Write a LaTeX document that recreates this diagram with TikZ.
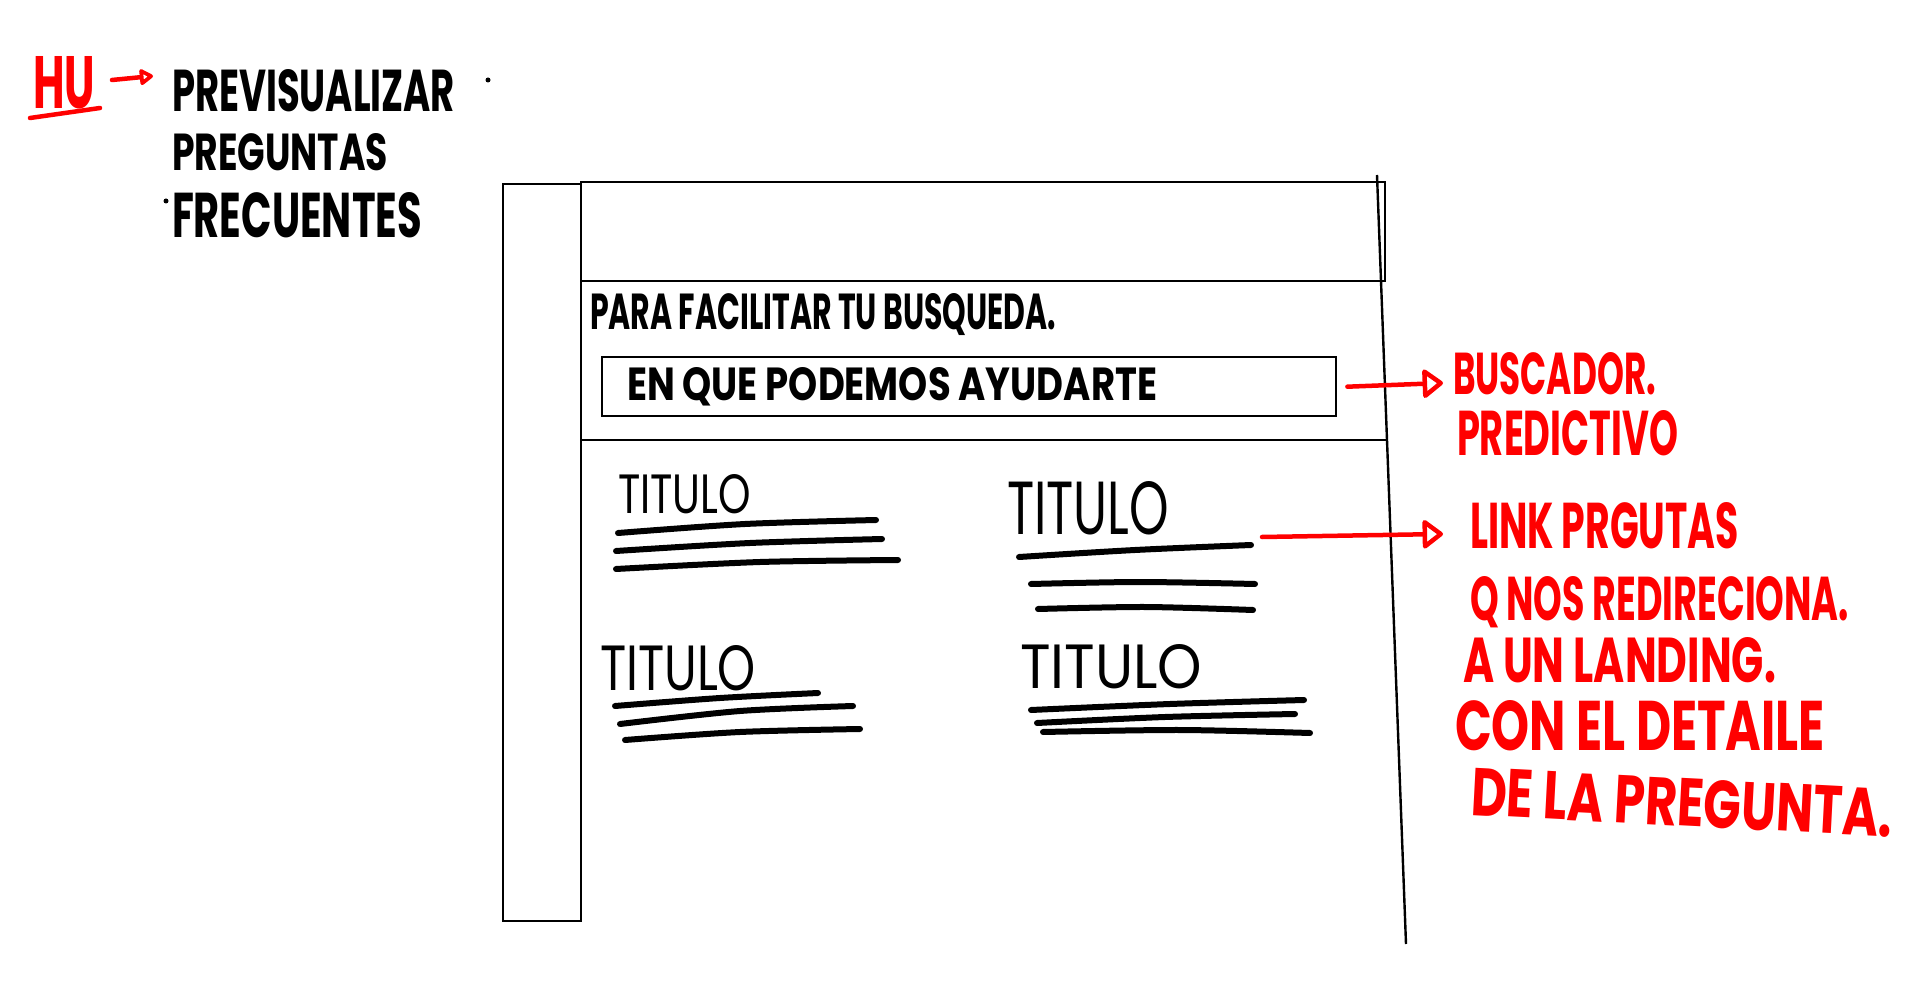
\documentclass[tikz,border=0pt]{standalone}
\usepackage{fontspec}
\setmainfont{Poppins}
\usepackage{graphicx}
\usetikzlibrary{arrows.meta}
\definecolor{redpen}{RGB}{255,0,0}
\newcommand{\hwbox}[3]{\resizebox{#1pt}{#2pt}{#3}}
\tikzset{
  frame/.style={draw=black, line width=2.4pt},
  scribble/.style={draw=black, line width=6pt, line cap=round, line join=round},
  hwtext/.style={inner sep=0pt, outer sep=0pt, anchor=base west, text=black, font=\bfseries},
  redtext/.style={hwtext, text=redpen},
  redline/.style={draw=redpen, line width=4.5pt, line cap=round},
  redarrow/.style={redline, -{Triangle[open, round, length=22pt, width=32pt]}},
  redarrowsmall/.style={redline, -{Triangle[open, round, length=15pt, width=18pt]}},
}
\begin{document}
\begin{tikzpicture}[x=1pt,y=-1pt]
\useasboundingbox[fill=white] (0,0) rectangle (1920,1000);

% heading
\node[redtext] (hu) at (33,109) {\hwbox{62}{52}{HU}};
\draw[redline] (30,118) -- (100,108);
\coordinate (hua) at (112,80);
\node[hwtext] (prev) at (172,112) {\hwbox{283}{42}{PREVISUALIZAR}};
\draw[redarrowsmall] (hua) -- ([xshift=-19pt,yshift=36pt]prev.base west);
\fill (488,80) circle (2.5);
\node[hwtext] (preg) at (172,171) {\hwbox{216}{37}{PREGUNTAS}};
\fill (166,201) circle (2.5);
\node[hwtext] (frec) at (172,238) {\hwbox{250}{45}{FRECUENTES}};

% wireframe
\node[frame, anchor=north west, minimum width=78pt, minimum height=737pt, inner sep=0pt] (sidebar) at (502,183) {};
\node[frame, anchor=north west, minimum width=804pt, minimum height=99pt, inner sep=0pt] (header) at (580,181) {};
\draw[frame] (1377,175) -- (1406,944);
\draw[frame] (580,440) -- (1388,440);

\node[hwtext] (para) at (590,330) {\hwbox{466}{36}{PARA FACILITAR TU BUSQUEDA.}};
\node[frame, anchor=north west, minimum width=734pt, minimum height=59pt, inner sep=0pt] (sbox) at (601,356) {};
\node[hwtext] (stext) at (627,400) {\hwbox{530}{33}{EN QUE PODEMOS AYUDARTE}};

% cards
\node[hwtext, font=\mdseries] (t1) at (618,513) {\hwbox{133}{39}{TITULO}};
\node[hwtext, font=\mdseries] (t2) at (1007,534) {\hwbox{162}{53}{TITULO}};
\node[hwtext, font=\mdseries] (t3) at (600,690) {\hwbox{156}{45}{TITULO}};
\node[hwtext, font=\mdseries] (t4) at (1020,688) {\hwbox{182}{44}{TITULO}};

\draw[scribble] plot[smooth] coordinates {(618,533) (745,524) (876,520)};
\draw[scribble] plot[smooth] coordinates {(616,551) (750,543) (882,539)};
\draw[scribble] plot[smooth] coordinates {(616,569) (760,562) (898,560)};

\draw[scribble] plot[smooth] coordinates {(1019,557) (1135,550) (1251,545)};
\draw[scribble] plot[smooth] coordinates {(1031,584) (1140,582) (1255,584)};
\draw[scribble] plot[smooth] coordinates {(1038,609) (1145,607) (1253,610)};

\draw[scribble] plot[smooth] coordinates {(615,706) (720,698) (818,693)};
\draw[scribble] plot[smooth] coordinates {(620,724) (740,711) (853,706)};
\draw[scribble] plot[smooth] coordinates {(625,740) (740,732) (860,729)};

\draw[scribble] plot[smooth] coordinates {(1031,710) (1170,704) (1304,700)};
\draw[scribble] plot[smooth] coordinates {(1037,723) (1165,717) (1295,714)};
\draw[scribble] plot[smooth] coordinates {(1043,732) (1180,730) (1310,733)};

% annotations
\node[redtext] (busc) at (1453,395) {\hwbox{203}{42}{BUSCADOR.}};
\node[redtext] (pred) at (1457,455) {\hwbox{221}{45}{PREDICTIVO}};
\draw[redarrow] ([xshift=10pt]sbox.east) -- ([xshift=-10pt,yshift=12pt]busc.base west);

\node[redtext] (link) at (1470,548) {\hwbox{269}{46}{LINK PRGUTAS}};
\node[redtext] (qnos) at (1470,620) {\hwbox{379}{44}{Q NOS REDIRECIONA.}};
\node[redtext] (land) at (1463,682) {\hwbox{313}{45}{A UN LANDING.}};
\node[redtext] (con) at (1455,750) {\hwbox{370}{50}{CON EL DETAILE}};
\node[redtext, rotate=-3] (dela) at (1470,815) {\hwbox{422}{48}{DE LA PREGUNTA.}};
\coordinate (a2s) at (1262,537);
\draw[redarrow] (a2s) -- ([xshift=-27pt,yshift=14pt]link.base west);
\end{tikzpicture}
\end{document}
